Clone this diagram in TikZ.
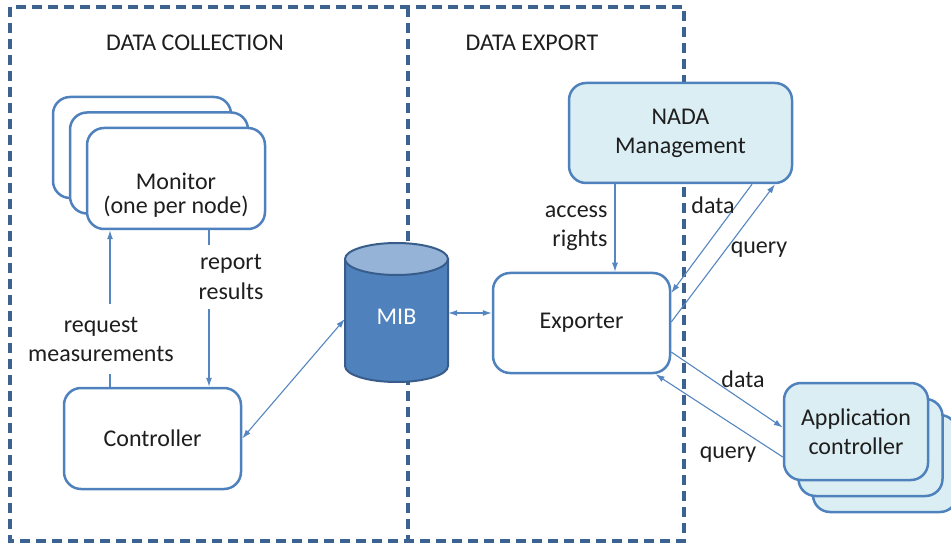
\documentclass[tikz,border=0pt]{standalone}
\usepackage{fontspec}
\setmainfont{Carlito}
\usetikzlibrary{arrows.meta}
\definecolor{boxblue}{RGB}{79,129,189}
\definecolor{arrblue}{RGB}{86,134,192}
\definecolor{frameblue}{RGB}{60,98,145}
\definecolor{lightblue}{RGB}{219,238,244}
\definecolor{mibtop}{RGB}{149,179,215}
\definecolor{mibedge}{RGB}{56,93,138}
\definecolor{txtgray}{RGB}{30,30,30}
\begin{document}
\begin{tikzpicture}[x=1pt,y=-1pt,
    every node/.style={font=\fontsize{24}{29}\selectfont, text=txtgray},
    box/.style={draw=boxblue, line width=2.5pt, rounded corners=17pt, fill=white, align=center},
    appbox/.style={box, fill=lightblue},
    arr/.style={draw=arrblue, line width=1.1pt, -{Latex[length=9pt,width=6pt]}},
    dbl/.style={arr, {Latex[length=9pt,width=6pt]}-{Latex[length=9pt,width=6pt]}},
    region/.style={draw=frameblue, line width=3.2pt, dash pattern=on 10pt off 6pt},
    cutout/.style={fill=white, align=center}]
  \useasboundingbox (0,0) rectangle (951,548);
  % the two regions
  \draw[region] (10,7) rectangle (684,541);
  \draw[region] (408,7) -- (408,541);
  \node (collect) at (195,43) {DATA COLLECTION};
  \node (export) at (532,43) {DATA EXPORT};
  % monitors, one per node
  \foreach \i in {2,1}
    \node[box, minimum width=178pt, minimum height=101pt] (mon\i) at (176-17*\i,178.5-15.5*\i) {};
  \node[box, minimum width=178pt, minimum height=101pt] (monitor) at (176,178.5) {};
  \node[align=center] (montext) at (176,195) {Monitor\\[-5pt](one per node)};
  \node[box, minimum width=177pt, minimum height=101pt] (controller) at (152.5,438.5) {Controller};
  % MIB
  \draw[fill=boxblue, draw=mibedge, line width=2pt] (345,259) -- (345,366)
    arc[start angle=180, end angle=360, x radius=51.5pt, y radius=16pt] -- (448,259) -- cycle;
  \draw[fill=mibtop, draw=mibedge, line width=2pt] (396.5,259) ellipse [x radius=51.5pt, y radius=16pt];
  \node[minimum width=103pt, minimum height=139pt, text=white] (mib) at (396.5,317) {MIB};
  % export side
  \node[box, minimum width=177pt, minimum height=100pt] (exporter) at (581.5,323) {Exporter};
  \node[appbox, minimum width=223pt, minimum height=100pt] (nada) at (680.5,133) {NADA\\Management};
  \foreach \i in {2,1}
    \node[appbox, minimum width=144pt, minimum height=97pt] (app\i) at (856+14.5*\i,431.5+16*\i) {};
  \node[appbox, minimum width=144pt, minimum height=97pt] (app) at (856,431.5) {Application\\controller};
  % connectors
  \draw[arr] ([xshift=-42.5pt]controller.north) -- ([xshift=-42.5pt]controller.north |- monitor.south);
  \draw[arr] ([xshift=33pt]monitor.south) -- ([xshift=33pt]monitor.south |- controller.north);
  \node[cutout, minimum width=172pt, minimum height=69pt] (reqlbl) at (101,339) {request\\measurements};
  \node[cutout, minimum width=90pt, minimum height=64pt] (replbl) at (231,277) {report\\results};
  \draw[dbl] (controller.east) -- ([yshift=-2pt]mib.west);
  \draw[dbl] ([yshift=4pt]mib.east) -- ([yshift=4pt]mib.east -| exporter.west);
  \draw[arr] ([xshift=-65.5pt]nada.south) -- ([xshift=-65.5pt]nada.south |- exporter.north);
  \node[align=right, anchor=east] (acclbl) at (611,228) {access\\rights};
  \draw[arr] ([xshift=71.5pt]nada.south) -- ([yshift=30pt]exporter.east);
  \draw[arr] ([yshift=1pt]exporter.east) -- ([xshift=94.5pt]nada.south);
  \node (datalbl) at (713,205) {data};
  \node (querylbl) at (759,250) {query};
  \draw[arr] ([yshift=-29pt]exporter.east) -- ([yshift=4pt]app.west);
  \draw[arr] ([yshift=-25.5pt]app.west) -- ([xshift=74pt]exporter.south);
  \node (appdata) at (743,379) {data};
  \node (appquery) at (728,455) {query};
\end{tikzpicture}
\end{document}
